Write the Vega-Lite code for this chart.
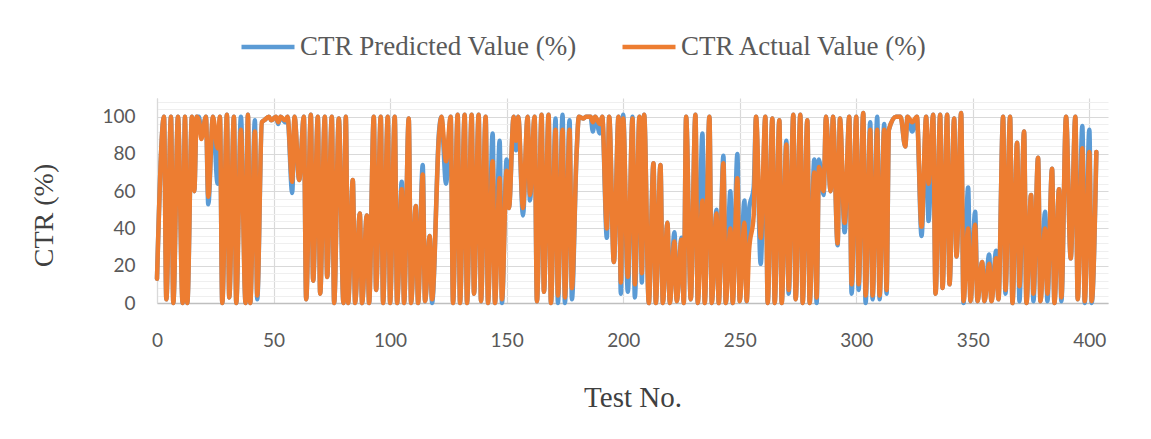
{
  "$schema": "https://vega.github.io/schema/vega-lite/v6.json",
  "width": 951,
  "height": 205,
  "autosize": {"type": "none"},
  "padding": {"left": 157, "top": 98, "right": 43, "bottom": 136},
  "background": "white",
  "config": {"view": {"stroke": null}},
  "data": {"values": [
    {"t":0,"p":13,"a":13},{"t":3,"p":100,"a":100},{"t":4,"p":2,"a":2},{"t":6,"p":100,"a":100},{"t":7,"p":0,"a":0},
    {"t":9,"p":100,"a":100},{"t":11,"p":0,"a":0},{"t":12,"p":100,"a":100},{"t":13,"p":0,"a":0},{"t":15,"p":100,"a":100},
    {"t":16,"p":60,"a":60},{"t":17,"p":100,"a":100},{"t":18,"p":100,"a":98},{"t":19,"p":90,"a":88},{"t":21,"p":100,"a":100},
    {"t":22,"p":53,"a":57},{"t":24,"p":100,"a":100},{"t":26,"p":64,"a":83},{"t":27,"p":100,"a":100},{"t":28,"p":0,"a":0},
    {"t":30,"p":101,"a":101},{"t":31,"p":3,"a":3},{"t":33,"p":100,"a":100},{"t":34,"p":0,"a":0},{"t":36,"p":100,"a":93},
    {"t":38,"p":0,"a":0},{"t":39,"p":101,"a":101},{"t":40,"p":0,"a":0},{"t":42,"p":98,"a":92},{"t":43,"p":2,"a":4},
    {"t":45,"p":97,"a":97},{"t":46,"p":98,"a":98},{"t":48,"p":100,"a":100},{"t":49,"p":98,"a":98},{"t":51,"p":100,"a":100},
    {"t":52,"p":96,"a":97},{"t":53,"p":100,"a":100},{"t":55,"p":97,"a":98},{"t":56,"p":100,"a":100},{"t":58,"p":59,"a":65},
    {"t":59,"p":100,"a":100},{"t":61,"p":66,"a":66},{"t":63,"p":100,"a":100},{"t":64,"p":2,"a":2},{"t":66,"p":101,"a":101},
    {"t":67,"p":12,"a":12},{"t":69,"p":100,"a":100},{"t":70,"p":5,"a":5},{"t":72,"p":100,"a":100},{"t":73,"p":14,"a":14},
    {"t":75,"p":100,"a":100},{"t":76,"p":0,"a":0},{"t":78,"p":99,"a":99},{"t":80,"p":0,"a":0},{"t":81,"p":100,"a":100},
    {"t":82,"p":0,"a":0},{"t":84,"p":66,"a":66},{"t":85,"p":0,"a":0},{"t":87,"p":48,"a":48},{"t":88,"p":0,"a":0},
    {"t":90,"p":47,"a":47},{"t":91,"p":0,"a":0},{"t":93,"p":100,"a":100},{"t":94,"p":7,"a":7},{"t":96,"p":100,"a":100},
    {"t":97,"p":0,"a":0},{"t":99,"p":100,"a":100},{"t":100,"p":0,"a":0},{"t":102,"p":100,"a":100},{"t":103,"p":0,"a":0},
    {"t":105,"p":65,"a":61},{"t":106,"p":0,"a":0},{"t":108,"p":99,"a":99},{"t":109,"p":0,"a":0},{"t":111,"p":52,"a":52},
    {"t":112,"p":0,"a":0},{"t":114,"p":74,"a":69},{"t":115,"p":1,"a":1},{"t":117,"p":36,"a":36},{"t":118,"p":0,"a":2},
    {"t":121,"p":92,"a":90},{"t":122,"p":100,"a":100},{"t":124,"p":64,"a":76},{"t":126,"p":100,"a":100},{"t":127,"p":0,"a":0},
    {"t":129,"p":101,"a":101},{"t":130,"p":0,"a":0},{"t":132,"p":101,"a":101},{"t":133,"p":0,"a":0},{"t":135,"p":101,"a":101},
    {"t":136,"p":5,"a":5},{"t":138,"p":101,"a":101},{"t":139,"p":1,"a":1},{"t":141,"p":100,"a":100},{"t":142,"p":0,"a":0},
    {"t":144,"p":91,"a":76},{"t":145,"p":0,"a":0},{"t":147,"p":87,"a":67},{"t":148,"p":0,"a":2},{"t":150,"p":77,"a":71},
    {"t":151,"p":51,"a":51},{"t":153,"p":100,"a":100},{"t":154,"p":82,"a":87},{"t":155,"p":100,"a":100},{"t":157,"p":47,"a":51},
    {"t":159,"p":100,"a":100},{"t":160,"p":55,"a":58},{"t":162,"p":100,"a":100},{"t":163,"p":1,"a":1},{"t":165,"p":101,"a":101},
    {"t":166,"p":6,"a":6},{"t":168,"p":101,"a":101},{"t":169,"p":0,"a":0},{"t":171,"p":99,"a":93},{"t":172,"p":0,"a":4},
    {"t":174,"p":101,"a":93},{"t":175,"p":0,"a":3},{"t":177,"p":98,"a":93},{"t":178,"p":2,"a":8},{"t":180,"p":80,"a":80},
    {"t":181,"p":100,"a":100},{"t":183,"p":99,"a":99},{"t":184,"p":100,"a":100},{"t":186,"p":100,"a":100},{"t":187,"p":92,"a":97},
    {"t":188,"p":100,"a":100},{"t":190,"p":91,"a":96},{"t":191,"p":100,"a":100},{"t":193,"p":35,"a":40},{"t":194,"p":100,"a":100},
    {"t":196,"p":22,"a":22},{"t":198,"p":100,"a":100},{"t":199,"p":5,"a":11},{"t":200,"p":101,"a":99},{"t":202,"p":6,"a":14},
    {"t":204,"p":100,"a":99},{"t":205,"p":3,"a":10},{"t":207,"p":100,"a":100},{"t":208,"p":11,"a":16},{"t":209,"p":101,"a":101},
    {"t":211,"p":0,"a":0},{"t":213,"p":75,"a":75},{"t":214,"p":0,"a":0},{"t":216,"p":74,"a":74},{"t":217,"p":0,"a":0},
    {"t":219,"p":43,"a":43},{"t":220,"p":0,"a":0},{"t":222,"p":38,"a":33},{"t":223,"p":1,"a":1},{"t":225,"p":35,"a":34},
    {"t":226,"p":0,"a":0},{"t":227,"p":100,"a":100},{"t":229,"p":2,"a":2},{"t":231,"p":101,"a":101},{"t":232,"p":0,"a":0},
    {"t":234,"p":91,"a":55},{"t":235,"p":0,"a":0},{"t":237,"p":100,"a":100},{"t":238,"p":0,"a":0},{"t":240,"p":50,"a":48},
    {"t":241,"p":0,"a":0},{"t":243,"p":79,"a":75},{"t":244,"p":0,"a":0},{"t":246,"p":60,"a":40},{"t":247,"p":0,"a":0},
    {"t":249,"p":80,"a":67},{"t":250,"p":1,"a":1},{"t":252,"p":55,"a":43},{"t":253,"p":1,"a":1},{"t":254,"p":50,"a":28},
    {"t":256,"p":62,"a":47},{"t":257,"p":100,"a":100},{"t":259,"p":21,"a":35},{"t":261,"p":100,"a":100},{"t":262,"p":0,"a":0},
    {"t":264,"p":99,"a":99},{"t":265,"p":0,"a":0},{"t":267,"p":98,"a":98},{"t":268,"p":0,"a":0},{"t":270,"p":87,"a":85},
    {"t":271,"p":5,"a":7},{"t":273,"p":101,"a":101},{"t":274,"p":2,"a":2},{"t":276,"p":101,"a":101},{"t":277,"p":0,"a":0},
    {"t":279,"p":98,"a":98},{"t":280,"p":0,"a":0},{"t":282,"p":77,"a":70},{"t":283,"p":0,"a":3},{"t":284,"p":77,"a":73},
    {"t":286,"p":58,"a":60},{"t":287,"p":100,"a":100},{"t":289,"p":60,"a":60},{"t":290,"p":100,"a":100},{"t":292,"p":31,"a":32},
    {"t":293,"p":99,"a":99},{"t":295,"p":38,"a":43},{"t":297,"p":100,"a":100},{"t":298,"p":5,"a":10},{"t":300,"p":100,"a":100},
    {"t":301,"p":7,"a":10},{"t":303,"p":102,"a":102},{"t":304,"p":0,"a":4},{"t":306,"p":97,"a":93},{"t":307,"p":2,"a":4},
    {"t":309,"p":100,"a":93},{"t":310,"p":2,"a":4},{"t":312,"p":96,"a":93},{"t":313,"p":5,"a":7},{"t":314,"p":93,"a":93},
    {"t":317,"p":100,"a":100},{"t":319,"p":100,"a":100},{"t":321,"p":84,"a":84},{"t":322,"p":100,"a":100},{"t":324,"p":92,"a":97},
    {"t":326,"p":100,"a":100},{"t":328,"p":36,"a":41},{"t":330,"p":100,"a":100},{"t":331,"p":44,"a":64},{"t":333,"p":101,"a":101},
    {"t":334,"p":5,"a":5},{"t":336,"p":101,"a":101},{"t":337,"p":8,"a":8},{"t":339,"p":101,"a":101},{"t":340,"p":10,"a":10},
    {"t":342,"p":99,"a":99},{"t":343,"p":25,"a":25},{"t":345,"p":102,"a":102},{"t":346,"p":0,"a":1},{"t":348,"p":62,"a":40},
    {"t":349,"p":1,"a":1},{"t":351,"p":49,"a":42},{"t":352,"p":1,"a":1},{"t":354,"p":22,"a":22},{"t":355,"p":1,"a":1},
    {"t":357,"p":26,"a":21},{"t":358,"p":1,"a":1},{"t":360,"p":28,"a":24},{"t":361,"p":2,"a":2},{"t":363,"p":100,"a":100},
    {"t":364,"p":5,"a":7},{"t":366,"p":100,"a":100},{"t":367,"p":0,"a":0},{"t":369,"p":86,"a":86},{"t":370,"p":1,"a":9},
    {"t":372,"p":92,"a":92},{"t":373,"p":0,"a":0},{"t":375,"p":58,"a":58},{"t":376,"p":1,"a":5},{"t":378,"p":78,"a":78},
    {"t":379,"p":1,"a":1},{"t":381,"p":49,"a":40},{"t":382,"p":1,"a":5},{"t":384,"p":72,"a":72},{"t":385,"p":0,"a":0},
    {"t":387,"p":61,"a":61},{"t":388,"p":1,"a":3},{"t":390,"p":100,"a":100},{"t":392,"p":24,"a":24},{"t":394,"p":100,"a":100},
    {"t":395,"p":2,"a":2},{"t":397,"p":95,"a":83},{"t":398,"p":0,"a":1},{"t":400,"p":93,"a":81},{"t":401,"p":0,"a":1},
    {"t":403,"p":81,"a":81}
  ]},
  "transform": [{"fold": ["p", "a"], "as": ["series", "value"]}],
  "mark": {"type": "line", "interpolate": "monotone", "strokeWidth": 4.5, "strokeCap": "round", "strokeJoin": "round"},
  "encoding": {
    "x": {
      "field": "t", "type": "quantitative",
      "scale": {"domain": [0, 408], "nice": false, "zero": false},
      "axis": {
        "values": [0, 50, 100, 150, 200, 250, 300, 350, 400],
        "ticks": false, "grid": true, "gridColor": "#d9d9d9", "gridWidth": 1.2,
        "domainColor": "#bfbfbf", "domainWidth": 1.5, "labelFlush": false,
        "labelFont": "Lato", "labelFontSize": 19, "labelColor": "#595959", "labelPadding": 28,
        "title": "Test No.", "titleFont": "Liberation Serif", "titleFontSize": 29, "titleFontWeight": "normal",
        "titleColor": "#404040", "titlePadding": 33
      }
    },
    "y": {
      "field": "value", "type": "quantitative",
      "scale": {"domain": [0, 110], "nice": false},
      "axis": {
        "values": [0,4,8,12,16,20,24,28,32,36,40,44,48,52,56,60,64,68,72,76,80,84,88,92,96,100,104,108],
        "labelExpr": "datum.value % 20 === 0 ? datum.label : ''",
        "ticks": false, "grid": true,
        "gridColor": {"condition": {"test": "datum.value % 20 === 0", "value": "#d9d9d9"}, "value": "#efefef"},
        "gridWidth": 1.2,
        "domainColor": "#d9d9d9", "domainWidth": 1.2,
        "labelFont": "Lato", "labelFontSize": 19, "labelColor": "#595959", "labelPadding": 22,
        "title": "CTR (%)", "titleFont": "Liberation Serif", "titleFontSize": 28, "titleFontWeight": "normal",
        "titleColor": "#404040", "titlePadding": 43, "titleY": 117
      }
    },
    "color": {
      "field": "series", "type": "nominal",
      "scale": {"domain": ["p", "a"], "range": ["#5B9BD5", "#ED7D31"]},
      "legend": {
        "orient": "none", "legendX": 82, "legendY": -80, "direction": "horizontal", "title": null, "padding": 0,
        "symbolType": "stroke", "symbolSize": 2809, "symbolStrokeWidth": 4.5,
        "labelFont": "Liberation Serif", "labelFontSize": 27, "labelColor": "#595959", "labelOffset": 3, "labelLimit": 0,
        "columnPadding": 36,
        "labelExpr": "datum.value === 'p' ? 'CTR Predicted Value (%)' : 'CTR Actual Value (%)'"
      }
    }
  }
}
